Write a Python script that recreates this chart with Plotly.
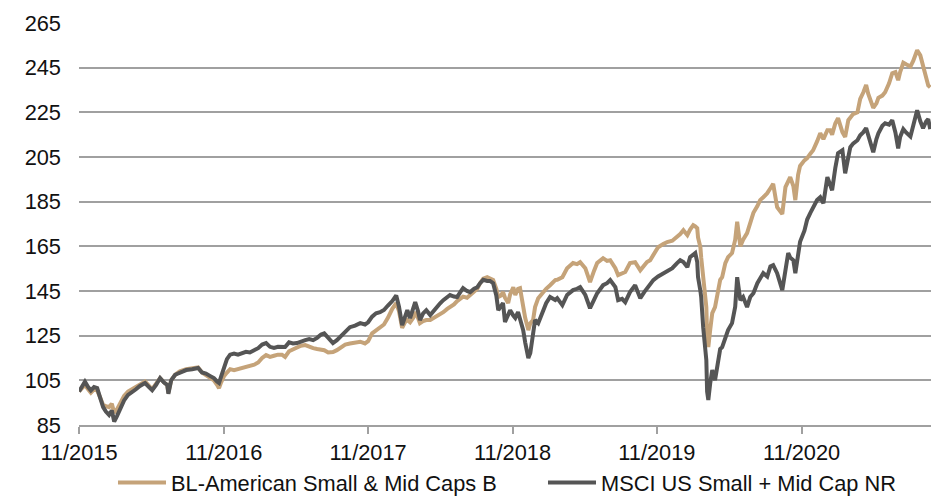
import plotly.graph_objects as go

dates = [
"2015-11-01","2015-11-09","2015-11-16","2015-11-24","2015-12-01","2015-12-09","2015-12-17","2015-12-24",
"2016-01-01","2016-01-08","2016-01-16","2016-01-23","2016-01-29","2016-02-05","2016-02-13","2016-02-23",
"2016-03-04","2016-03-14","2016-03-24","2016-04-03","2016-04-16","2016-04-26","2016-05-04","2016-05-14",
"2016-05-24","2016-06-03","2016-06-11","2016-06-14","2016-06-21","2016-07-01","2016-07-13","2016-07-29",
"2016-08-13","2016-08-28","2016-09-07","2016-09-17","2016-09-27","2016-10-07","2016-10-15","2016-10-20",
"2016-10-25","2016-11-02","2016-11-09","2016-11-17","2016-11-27","2016-12-07","2016-12-17","2016-12-27",
"2017-01-06","2017-01-17","2017-01-27","2017-02-06","2017-02-16","2017-02-26","2017-03-08","2017-03-18",
"2017-03-28","2017-04-05","2017-04-15","2017-04-25","2017-05-05","2017-05-15","2017-05-26","2017-06-05",
"2017-06-15","2017-06-25","2017-07-05","2017-07-13","2017-07-23","2017-08-04","2017-08-14","2017-08-25",
"2017-09-04","2017-09-16","2017-09-29","2017-10-12","2017-10-24","2017-11-01","2017-11-11","2017-11-21",
"2017-12-01","2017-12-11","2017-12-21","2018-01-01","2018-01-11","2018-01-18","2018-01-26","2018-02-02",
"2018-02-08","2018-02-15","2018-02-23","2018-02-28","2018-03-07","2018-03-12","2018-03-20","2018-03-28",
"2018-04-07","2018-04-17","2018-04-24","2018-05-02","2018-05-10","2018-05-20","2018-05-27","2018-06-06",
"2018-06-14","2018-06-22","2018-06-29","2018-07-09","2018-07-17","2018-07-27","2018-08-04","2018-08-11",
"2018-08-19","2018-08-29","2018-09-05","2018-09-13","2018-09-21","2018-09-26","2018-10-03","2018-10-08",
"2018-10-13","2018-10-21","2018-10-26","2018-11-03","2018-11-08","2018-11-15","2018-11-20","2018-11-28",
"2018-12-03","2018-12-11","2018-12-16","2018-12-23","2018-12-28","2019-01-05","2019-01-15","2019-01-25",
"2019-02-04","2019-02-17","2019-02-22","2019-03-07","2019-03-19","2019-04-03","2019-04-13","2019-04-21",
"2019-05-04","2019-05-16","2019-05-26","2019-06-03","2019-06-18","2019-06-28","2019-07-06","2019-07-19",
"2019-07-26","2019-08-05","2019-08-13","2019-08-25","2019-09-07","2019-09-20","2019-09-30","2019-10-07",
"2019-10-15","2019-10-23","2019-11-04","2019-11-17","2019-11-27","2019-12-10","2019-12-22","2019-12-30",
"2020-01-07","2020-01-17","2020-01-24","2020-02-01","2020-02-06","2020-02-11","2020-02-13","2020-02-19",
"2020-02-21","2020-02-26","2020-03-02","2020-03-05","2020-03-07","2020-03-10","2020-03-15","2020-03-20",
"2020-03-27","2020-04-04","2020-04-09","2020-04-14","2020-04-22","2020-04-29","2020-05-09","2020-05-17",
"2020-05-22","2020-05-30","2020-06-06","2020-06-16","2020-06-24","2020-07-02","2020-07-12","2020-07-19",
"2020-07-27","2020-08-06","2020-08-14","2020-08-21","2020-08-31","2020-09-13","2020-09-21","2020-09-28",
"2020-10-03","2020-10-11","2020-10-16","2020-10-23","2020-10-28","2020-11-08","2020-11-15","2020-11-23",
"2020-11-30","2020-12-10","2020-12-18","2020-12-26","2021-01-05","2021-01-12","2021-01-17","2021-01-25",
"2021-02-01","2021-02-12","2021-02-19","2021-02-27","2021-03-04","2021-03-11","2021-03-22","2021-03-29",
"2021-04-06","2021-04-13","2021-04-18","2021-04-26","2021-05-01","2021-05-09","2021-05-14","2021-05-24",
"2021-05-31","2021-06-10","2021-06-18","2021-06-26","2021-07-03","2021-07-08","2021-07-16","2021-07-23",
"2021-08-03","2021-08-10","2021-08-20","2021-08-28","2021-09-04","2021-09-12","2021-09-17","2021-09-22",
]

msci = [
100,102.5,104.4,102,100.5,102,101.5,97.5,
93,91,89.5,91.5,86.5,89,92.5,96,
98.5,99.5,101,102.5,103.8,102,100.6,103,
106,104,103,99,105,107.5,108.5,109.6,
110,110.5,108.5,108,107,106,104.5,103.8,
106.5,111,114.5,116.5,117,116.5,117.2,117.8,
117.5,118.5,119.4,121,121.7,120,119.5,120,
119.8,119.9,122,121.5,121.7,122.5,123,123.5,
123,124,125.5,126,124,121.7,123,125,
127,128.8,129.5,130.6,130,131,133.5,135,
135.5,136.5,138.5,140.5,143,138,129.7,134,
136.4,132.9,137,140,136,132,135,136.4,
134.2,136.5,137.8,139.5,140.9,142.5,143.2,142.5,
142.3,144.5,146.3,145,144.5,146,146.7,148.5,
150,149.5,149.5,148.5,143,136.4,138,139.6,
131.1,135,136.4,134,132.9,135.6,133,127.5,
122,115,117.2,124.4,132,130.6,135,139.5,
142.3,141,141.8,138.7,143.2,145.4,146,146.7,
143.2,137.3,141,144,147.6,148.5,149.9,146.7,
140.9,141.5,140,144.5,147.6,141.8,144.5,146.3,
148.5,149.9,151.5,153,154,155.2,157.5,158.8,
158,155.7,160.2,161.5,162,158,151.2,145,
142.3,128.8,118,114.1,100,96.2,104,109.6,
105.1,115.4,119,119.9,124,127.5,130.6,138,
151.2,140.9,142.3,137.8,142.3,144,148.5,150.5,
153,151.5,156,156.6,153,145.4,155,162,
160,158.8,153,162.4,167,172,177,180,
182.5,185.7,187,184.3,196,192,190.1,200,
206.7,208,197.7,205,209.4,211,212.5,214.7,
216.1,218,215,210,207.1,213,215.6,219,
220.1,219.5,221.5,216,208.9,214,217.5,216,
214.2,219,225.9,221,217.9,221,222,217.5,
]

bl_american = [
100,101.5,103,101,99.5,101,100.5,97.5,
94,93.5,93,94.5,90.5,92,95,98,
100,101,102.5,103.5,104.5,102.5,101,103.5,
106,104,103,99.5,105,107.5,109,110,
110.5,110.8,108.5,107.5,106.5,105,103,101.5,
104,107,108.5,110,109.5,110,110.3,111,
111.5,112,113,115,116.3,115.5,116,116.5,
116.5,115.5,118,119,119.5,120.5,120.8,120,
119.4,119,118.5,118.5,117.5,117.7,118.5,120,
121,121.5,122,122.3,121.5,122.5,126,127.5,
128.8,130,133,137,139.6,136,128.5,131,
132,131,133,135.6,133,130.6,131.5,132,
132,133,133.5,134.2,135.5,137,137.8,139,
140.5,141.8,142.5,142,143.2,144.5,146,148.5,
150.5,151.2,150.5,149.9,146,142.3,143,144.5,
142,139.6,143.5,146.7,143.2,146,146.3,138,
133,127.5,130.6,132,137.8,141.8,144,146,
147.6,149.9,150,151.2,155.2,157.5,157,157.9,
155.2,149,154,157.5,159.7,158.5,158.8,155.2,
152.1,153,153.5,157.5,157.9,154.3,156.5,158,
158.8,161,164.6,166,166.9,167.5,169.1,170.5,
172.2,170,172.5,174.5,174,173.1,169,164.6,
160,151.2,142,137.8,125,119.9,128,135.1,
137.8,145.4,150,151.2,157.5,160.2,162,168,
176,165,168,170.9,175,180,183,185.7,
187,188.8,191,193,182.5,179.5,191.5,194,
196,192,185.7,197,201,203.5,204.5,206.5,
208,212,215.6,213,217,217,215,220,
222.4,216.1,214,221.5,222.5,224.2,225,231,
234,237.2,233.5,229,227,229,231.5,232.5,
234,238,242.5,243,239.4,243,247.2,246.5,
245.5,248,252.8,250.5,245.5,240,237,236.2,
]

series_names = ["BL-American Small & Mid Caps B", "MSCI US Small + Mid Cap NR"]
tick_dates = ["2015-11-01","2016-11-01","2017-11-01","2018-11-01","2019-11-01","2020-11-01"]
tick_labels = ["11/2015","11/2016","11/2017","11/2018","11/2019","11/2020"]
y_ticks = [85,105,125,145,165,185,205,225,245,265]

TAN = "rgb(197,163,121)"
DARK = "rgb(85,85,85)"
GRID = "rgb(160,160,160)"
FONT = "Liberation Sans, Arial, sans-serif"
FS = 21.8

fig = go.Figure()
fig.add_trace(go.Scatter(x=dates, y=bl_american, mode="lines", name=series_names[0],
                         line=dict(color=TAN, width=4), legend="legend"))
fig.add_trace(go.Scatter(x=dates, y=msci, mode="lines", name=series_names[1],
                         line=dict(color=DARK, width=4), legend="legend2"))

legend_common = dict(orientation="h", xanchor="left", y=-0.144, yanchor="middle",
                     font=dict(size=FS), itemwidth=48, bgcolor="rgba(0,0,0,0)")

fig.update_layout(
    width=931, height=498,
    margin=dict(l=79, r=0, t=23, b=73, autoexpand=False),
    paper_bgcolor="white", plot_bgcolor="white",
    font=dict(family=FONT, size=FS, color="#111111"),
    showlegend=True,
    legend=dict(x=0.0399, **legend_common),
    legend2=dict(x=0.5446, **legend_common),
    xaxis=dict(type="date", range=["2015-11-01", "2021-09-24"], automargin=False,
               tickmode="array", tickvals=tick_dates, ticktext=tick_labels,
               showgrid=False, showline=True, linecolor=GRID, linewidth=1.5,
               ticks="outside", ticklen=7, tickcolor=GRID, tickwidth=1.5,
               tickfont=dict(size=FS), zeroline=False),
    yaxis=dict(range=[85, 265], tickmode="array", tickvals=y_ticks, automargin=False,
               showgrid=True, gridcolor=GRID, gridwidth=1.5,
               showline=False, zeroline=False, ticks="",
               ticklabelstandoff=17, tickfont=dict(size=FS)),
)

# remove the default 8px page margin so the 931x498 figure fills the window exactly
fig.write_html("out.html",
               config={"displayModeBar": False},
               post_script="document.body.style.margin='0';document.body.style.overflow='hidden';")
